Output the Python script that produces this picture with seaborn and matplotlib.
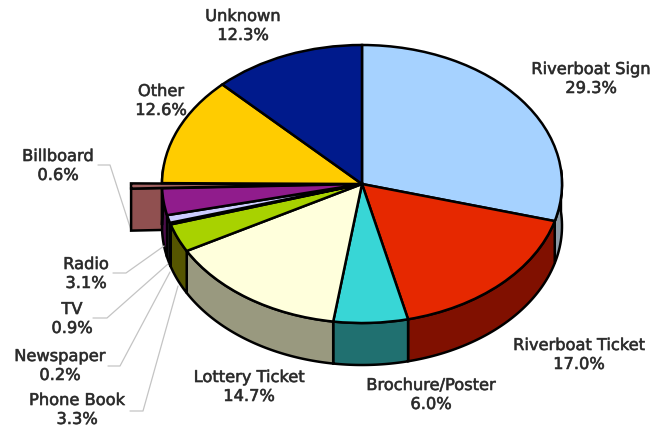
import numpy as np
import seaborn as sns
import matplotlib.pyplot as plt
import matplotlib.patheffects as pe

# share of responses, clockwise from 12 o'clock
categories = ['Riverboat Sign', 'Riverboat Ticket', 'Brochure/Poster', 'Lottery Ticket',
              'Phone Book', 'Newspaper', 'TV', 'Radio', 'Billboard', 'Other', 'Unknown']
shares = [29.3, 17.0, 6.0, 14.7, 3.3, 0.2, 0.9, 3.1, 0.6, 12.6, 12.3]
top_colors = ['#A6D2FF', '#E62800', '#38D6D6', '#FFFFDC', '#A8D200', '#FFFFFF',
              '#CCCCFF', '#901C8C', '#A06060', '#FFCC00', '#001A8C']
wall_colors = ['#8C9AA6', '#801000', '#207070', '#99997F', '#555500', '#777777',
               '#555566', '#4C0E4A', '#905050', '#806600', '#000D46']

# label anchor (centre of the two lines) in pixels
label_xy = [(591, 79), (579, 355), (431, 395), (249, 387), (77, 410), (60, 366),
            (72, 319), (86, 274), (58, 166), (161, 101), (243, 26)]
# leader lines in pixels: label side -> elbow -> pie
leaders = {
    'Billboard': [(98, 165), (110, 165), (131, 230)],
    'Radio': [(113, 273), (126, 273), (164, 246)],
    'TV': [(93, 318), (107, 318), (168, 264)],
    'Newspaper': [(108, 366), (120, 366), (170, 272)],
    'Phone Book': [(130, 411), (143, 411), (178, 286)],
}

W, H = 656, 433
CX, CY, RX, RY = 362, 184, 200, 139
DEPTH = 42 / RY
EXPLODE = 31 / RX
EDGE = 1.8


def to_data(p):
    ''' pixel position -> data position of the pie axes '''
    return (p[0] - CX) / RX, (CY - p[1]) / RY


sns.set_theme(style='white')
fig = plt.figure(figsize=(W / 100, H / 100), dpi=100, facecolor='white')
ax = fig.add_axes([0, 0, 1, 1])

fracs = np.array(shares) / sum(shares)
ends = np.cumsum(fracs) * 2 * np.pi
starts = ends - fracs * 2 * np.pi
billboard = categories.index('Billboard')

# cut face of the pulled out slice, sits behind everything else
mid = (starts[billboard] + ends[billboard]) / 2
shift = np.array([np.sin(mid), np.cos(mid)]) * EXPLODE
a0 = starts[billboard]
face_x = shift[0] + np.array([np.sin(a0), 0, 0, np.sin(a0)])
face_y = shift[1] + np.array([np.cos(a0), 0, -DEPTH, np.cos(a0) - DEPTH])
ax.fill(face_x, face_y, facecolor=wall_colors[billboard], edgecolor='black', lw=EDGE, zorder=1)

# front walls
for i in range(len(shares)):
    t = np.linspace(starts[i], ends[i], 80)
    t = t[np.cos(t) <= 0.12]
    if i == billboard or len(t) < 2:
        continue
    x = np.sin(t)
    y = np.cos(t)
    ax.fill(np.r_[x, x[::-1]], np.r_[y, y[::-1] - DEPTH], facecolor=wall_colors[i],
            edgecolor='black', lw=EDGE, zorder=2)

explode = [EXPLODE if c == 'Billboard' else 0 for c in categories]
wedges, _ = ax.pie(shares, colors=sns.color_palette(top_colors), explode=explode,
                   startangle=90, counterclock=False, radius=1,
                   wedgeprops={'edgecolor': 'black', 'linewidth': EDGE, 'zorder': 3})
ax.set_aspect('auto')
ax.set_xlim(-CX / RX, (W - CX) / RX)
ax.set_ylim((CY - H) / RY, CY / RY)
ax.axis('off')

for name, share, xy in zip(categories, shares, label_xy):
    x, y = to_data(xy)
    ax.text(x, y, '%s\n%.1f%%' % (name, share), ha='center', va='center', fontsize=11.7,
            color='#2a2a2a', family='DejaVu Sans', linespacing=1.33, zorder=5,
            path_effects=[pe.withStroke(linewidth=0.5, foreground='#555555')])

for name, pts in leaders.items():
    xs, ys = zip(*[to_data(p) for p in pts])
    ax.plot(xs, ys, color='#c4c4c4', lw=0.9, zorder=0 if name == 'Billboard' else 4)

fig.savefig('out.png', dpi=100)
